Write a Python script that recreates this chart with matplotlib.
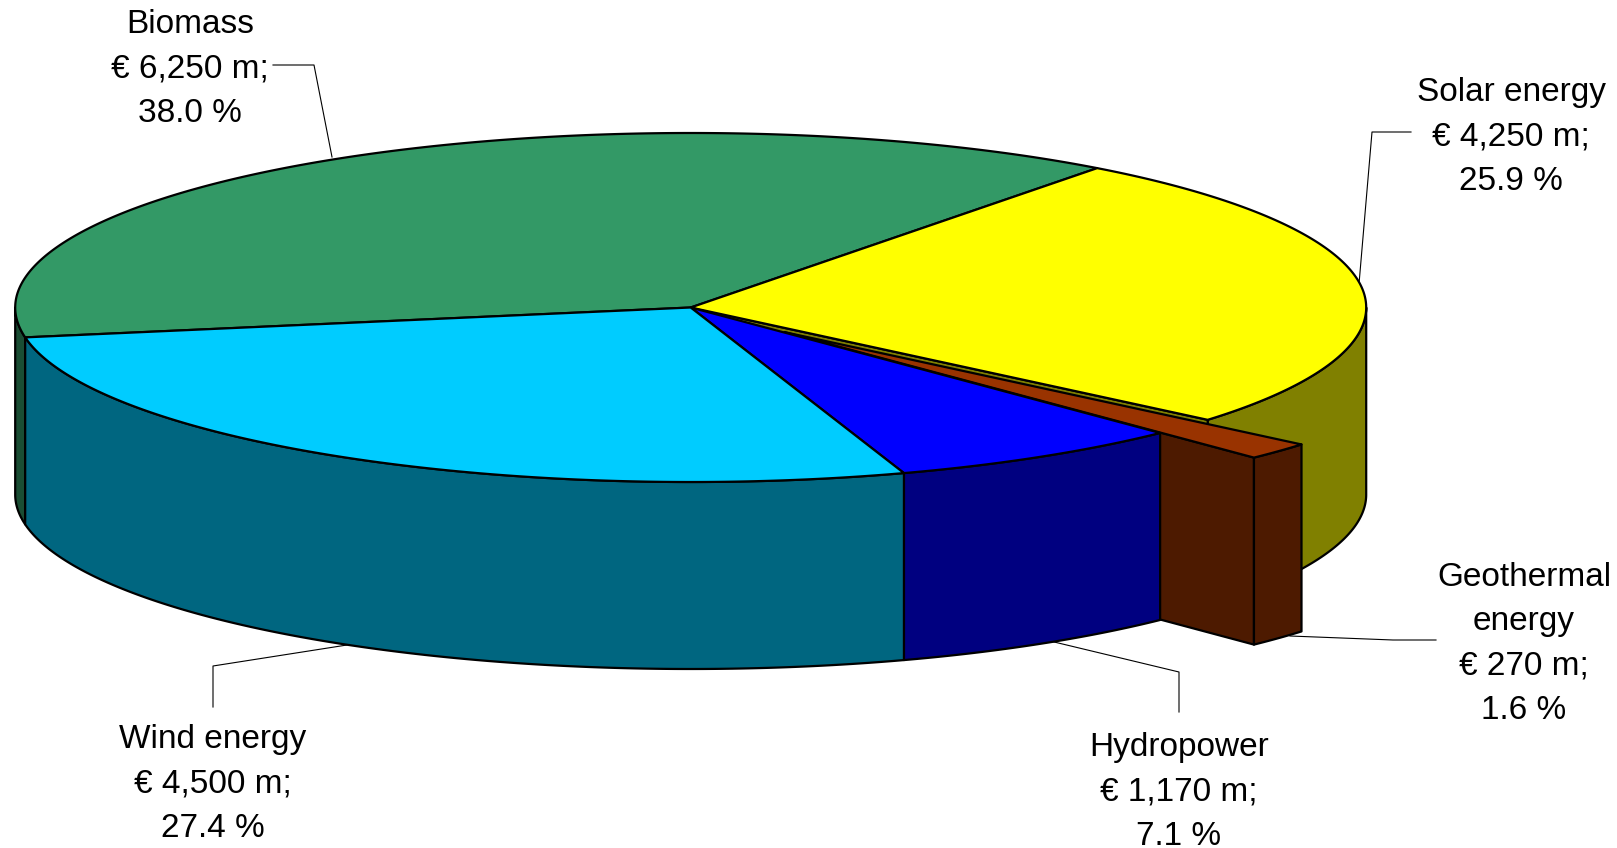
#3D pie chart of investment by energy source
import numpy as np
import matplotlib
matplotlib.use('Agg')
import matplotlib.pyplot as plt
from matplotlib.patches import Polygon

plt.rcParams['font.family'] = ['Liberation Sans', 'DejaVu Sans']

#data, clockwise from the biomass/solar boundary
names = ['Solar energy', 'Geothermal\nenergy', 'Hydropower', 'Wind energy', 'Biomass']
values = [4250, 270, 1170, 4500, 6250]
percents = ['25.9', '1.6', '7.1', '27.4', '38.0']

#colours
top_colors = ['#FFFF00', '#993300', '#0000FF', '#00CCFF', '#339966']
side_colors = ['#808000', '#4D1A00', '#000080', '#006680', '#1A4D33']

#label centre and leader line, one entry per slice
label_x = [1511, 1524, 1179, 213, 190]
label_y = [137, 644, 792, 784, 69]
leader_x = [[1411, 1372, 1359], [1436, 1393, 1290], [1179, 1179, 1050], [213, 213, 347], [273, 314, 332]]
leader_y = [[132, 132, 284], [640, 640, 636], [712, 672, 641], [707, 666, 645], [65, 65, 157]]

#pie shape in pixels
cx, cy = 690.7, 307.5
a, b = 675.5, 174.5
depth = 187
start = 37.0
explode = 0.19

fig = plt.figure(figsize=(16.17, 8.48), dpi=100)
ax = fig.add_axes([0, 0, 1, 1])
ax.set_xlim(0, 1617)
ax.set_ylim(848, 0)
ax.axis('off')

#angle 0 is at the top, going clockwise
def rim(t1, t2, dx=0, dy=0):
    t = np.radians(np.linspace(t1, t2, 300))
    return np.column_stack([cx + dx + a * np.sin(t), cy + dy - b * np.cos(t)])

def poly(pts, color, z):
    ax.add_patch(Polygon(pts, closed=True, facecolor=color, edgecolor='black',
                         linewidth=1.6, joinstyle='round', zorder=z))

def wall(t1, t2, color, z, dx=0, dy=0):
    r = rim(t1, t2, dx, dy)
    poly(np.vstack([r, r[::-1] + [0, depth]]), color, z)

def top(t1, t2, color, z, dx=0, dy=0):
    poly(np.vstack([[cx + dx, cy + dy], rim(t1, t2, dx, dy)]), color, z)

sweep = np.array(values) / sum(values) * 360
ends = start + np.cumsum(sweep)
starts = ends - sweep

#back pieces first
wall(starts[4], 270, side_colors[4], 1)
wall(90, ends[0], side_colors[0], 1)
p = rim(ends[0], ends[0])[0]
poly([[cx, cy], p, p + [0, depth], [cx, cy + depth]], side_colors[0], 1)
top(starts[4], ends[4], top_colors[4], 2)
top(starts[0], ends[0], top_colors[0], 2)

#exploded geothermal slice, pushed 2px further down to leave the olive strip
mid = np.radians((starts[1] + ends[1]) / 2)
ex = a * np.sin(mid) * explode
ey = -b * np.cos(mid) * explode + 2
p = rim(ends[1], ends[1], ex, ey)[0]
poly([[cx + ex, cy + ey], p, p + [0, depth], [cx + ex, cy + ey + depth]], side_colors[1], 3)
wall(starts[1], ends[1], side_colors[1], 3, ex, ey)
top(starts[1], ends[1], top_colors[1], 4, ex, ey)

#front pieces
wall(starts[2], ends[2], side_colors[2], 5)
wall(starts[3], ends[3], side_colors[3], 5)
top(starts[2], ends[2], top_colors[2], 6)
top(starts[3], ends[3], top_colors[3], 6)

#labels and leader lines
for i in range(len(names)):
    txt = names[i] + '\n€ ' + format(values[i], ',') + ' m;\n' + percents[i] + ' %'
    ax.text(label_x[i], label_y[i], txt, ha='center', va='center', fontsize=24,
            color='black', linespacing=1.545, zorder=8)
    ax.plot(leader_x[i], leader_y[i], color='black', linewidth=0.8, zorder=0)

plt.savefig('out.png', dpi=100)
